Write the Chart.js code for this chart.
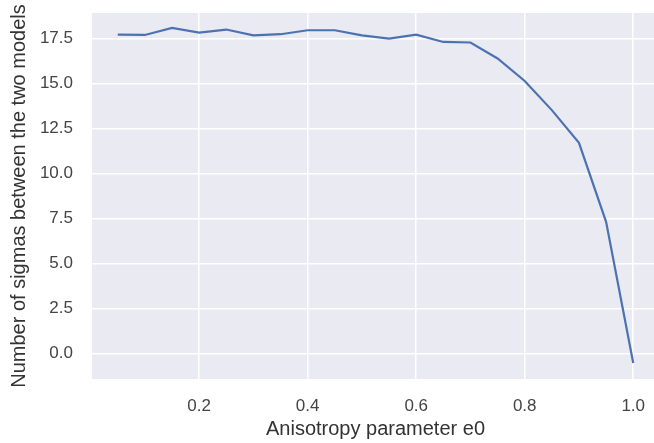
<!DOCTYPE html>
<html>
<head>
<meta charset="utf-8">
<script src="https://cdn.jsdelivr.net/npm/chart.js@4/dist/chart.umd.min.js"></script>
<style>
  html, body { margin: 0; padding: 0; background: #ffffff; overflow: hidden; width: 654px; height: 443px; }
  #wrap { width: 659px; height: 443px; }
</style>
</head>
<body>
<div id="wrap"><canvas id="c" width="659" height="443"></canvas></div>
<script>
// Data
const e0Values = [0.05, 0.10, 0.15, 0.20, 0.25, 0.30, 0.35, 0.40, 0.45, 0.50,
                  0.55, 0.60, 0.65, 0.70, 0.75, 0.80, 0.85, 0.90, 0.95, 1.00];
const sigmaValues = [17.72, 17.70, 18.09, 17.83, 18.00, 17.68, 17.74, 17.96, 17.96, 17.68,
                     17.50, 17.72, 17.31, 17.28, 16.39, 15.14, 13.52, 11.70, 7.31, -0.54];
const xTicks = [0.2, 0.4, 0.6, 0.8, 1.0];
const yTicks = [0.0, 2.5, 5.0, 7.5, 10.0, 12.5, 15.0, 17.5];

const xLabel = 'Anisotropy parameter e0';
const yLabel = 'Number of sigmas between the two models';

const points = e0Values.map((x, i) => ({ x: x, y: sigmaValues[i] }));

const bgPlugin = {
  id: 'plotBg',
  beforeDraw(chart) {
    const { ctx, chartArea: a } = chart;
    ctx.save();
    ctx.fillStyle = '#EAEAF2';
    ctx.fillRect(a.left, a.top, a.right - a.left, a.bottom - a.top);
    ctx.restore();
  }
};

const FONT = "'Liberation Sans', Arial, sans-serif";

new Chart(document.getElementById('c'), {
  type: 'line',
  data: {
    datasets: [{
      data: points,
      borderColor: '#4C72B0',
      borderWidth: 2.2,
      pointRadius: 0,
      fill: false,
      tension: 0
    }]
  },
  options: {
    responsive: false,
    animation: false,
    events: [],
    layout: { padding: { top: 13, left: 0, right: 0, bottom: 0 } },
    plugins: { legend: { display: false }, tooltip: { enabled: false } },
    scales: {
      x: {
        type: 'linear',
        min: 0.0025,
        max: 1.0475,
        afterFit(s) { s.height = 64; s.paddingLeft = 0; s.paddingRight = 0; },
        afterBuildTicks(s) { s.ticks = xTicks.map(v => ({ value: v })); },
        ticks: {
          callback: v => v.toFixed(1),
          font: { family: FONT, size: 17 },
          color: '#444444',
          padding: 17,
          maxRotation: 0,
          autoSkip: false
        },
        grid: { color: '#ffffff', lineWidth: 1.5, drawTicks: false },
        border: { display: false },
        title: {
          display: true,
          text: xLabel,
          font: { family: FONT, size: 20 },
          color: '#333333',
          padding: { top: 0, bottom: 2 }
        }
      },
      y: {
        type: 'linear',
        min: -1.43,
        max: 18.92,
        afterFit(s) { s.width = 92; s.paddingTop = 0; s.paddingBottom = 0; },
        afterBuildTicks(s) { s.ticks = yTicks.map(v => ({ value: v })); },
        ticks: {
          callback: v => v.toFixed(1),
          font: { family: FONT, size: 17 },
          color: '#444444',
          padding: 19,
          autoSkip: false
        },
        grid: { color: '#ffffff', lineWidth: 1.5, drawTicks: false },
        border: { display: false },
        title: {
          display: true,
          text: yLabel,
          font: { family: FONT, size: 20 },
          color: '#333333',
          padding: { top: 7, bottom: 0 }
        }
      }
    }
  },
  plugins: [bgPlugin]
});
</script>
</body>
</html>
